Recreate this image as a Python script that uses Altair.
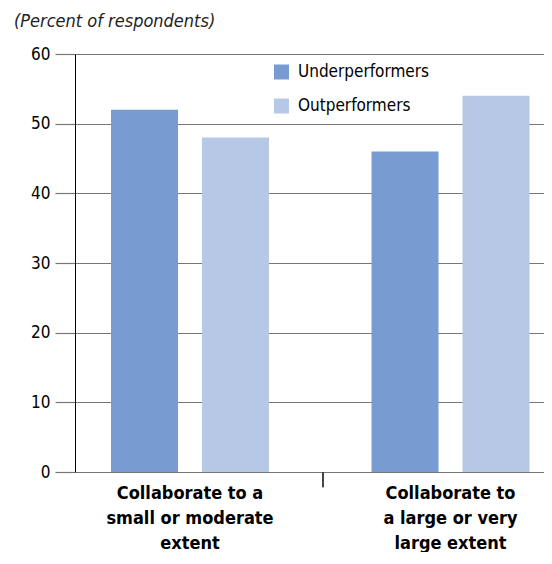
import altair as alt
import pandas as pd

categories = [
    "Collaborate to a\nsmall or moderate\nextent",
    "Collaborate to\na large or very\nlarge extent",
]
series = ["Underperformers", "Outperformers"]
underperformers = [52, 46]
outperformers = [48, 54]
y_ticks = [0, 10, 20, 30, 40, 50, 60]
colors = ["#789cd1", "#b7c8e6"]
title_text = "(Percent of respondents)"

rows = []
for i, c in enumerate(categories):
    rows.append({"cat": c, "series": series[0], "value": underperformers[i]})
    rows.append({"cat": c, "series": series[1], "value": outperformers[i]})
df = pd.DataFrame(rows)
divider_df = pd.DataFrame({"cat": [categories[1]], "y0": [0], "y1": [-2.2]})

NARROW = "'DejaVu Sans Condensed', 'Liberation Sans Narrow', Roboto, sans-serif"

xscale = alt.Scale(domain=categories, paddingInner=0.1996, paddingOuter=0)
yscale = alt.Scale(domain=[0, 60])

bars = alt.Chart(df).mark_bar().encode(
    x=alt.X(
        "cat:N",
        scale=xscale,
        sort=categories,
        axis=alt.Axis(
            title=None,
            domain=False,
            ticks=False,
            labelAngle=0,
            labelExpr="split(datum.label, '\\n')",
            labelFontSize=18,
            labelFontWeight="bold",
            labelFont=NARROW,
            labelLineHeight=25,
            labelPadding=12,
            labelBaseline="top",
            labelColor="black",
            labelLimit=400,
            labelOffset=10.75,
        ),
    ),
    xOffset=alt.XOffset(
        "series:N",
        sort=series,
        scale=alt.Scale(domain=series, paddingInner=0.2637, paddingOuter=0.2775, align=0.713),
    ),
    y=alt.Y(
        "value:Q",
        scale=yscale,
        axis=alt.Axis(
            values=y_ticks,
            title=None,
            domainColor="black",
            domainWidth=1,
            tickColor="#777777",
            tickSize=20,
            tickWidth=1.2,
            gridColor="#777777",
            gridWidth=1.2,
            labelFontSize=17,
            labelFont=NARROW,
            labelPadding=5,
            labelColor="black",
        ),
    ),
    color=alt.Color(
        "series:N",
        sort=series,
        scale=alt.Scale(domain=series, range=colors),
        legend=alt.Legend(
            title=None,
            orient="none",
            legendX=198,
            legendY=9.5,
            symbolType="square",
            symbolSize=225,
            symbolStrokeWidth=0,
            labelFontSize=17,
            labelFont=NARROW,
            labelColor="black",
            labelOffset=8,
            rowPadding=16,
            padding=0,
        ),
    ),
)

divider = alt.Chart(divider_df).mark_rule(color="#444444", strokeWidth=2, xOffset=-12.5).encode(
    x=alt.X("cat:N", scale=xscale, sort=categories, bandPosition=0),
    y=alt.Y("y0:Q", scale=yscale),
    y2="y1:Q",
)

chart = alt.layer(bars, divider).properties(
    width=469,
    height=418,
    padding={"left": 6, "top": 5, "right": 0, "bottom": 0},
    title=alt.TitleParams(
        title_text,
        anchor="start",
        frame="group",
        dx=-61,
        fontStyle="italic",
        fontWeight="normal",
        fontSize=18,
        font=NARROW,
        color="#222222",
        offset=14,
    ),
).configure_view(strokeWidth=0)

chart.save("out.html", embed_options={"renderer": "svg", "actions": False})
